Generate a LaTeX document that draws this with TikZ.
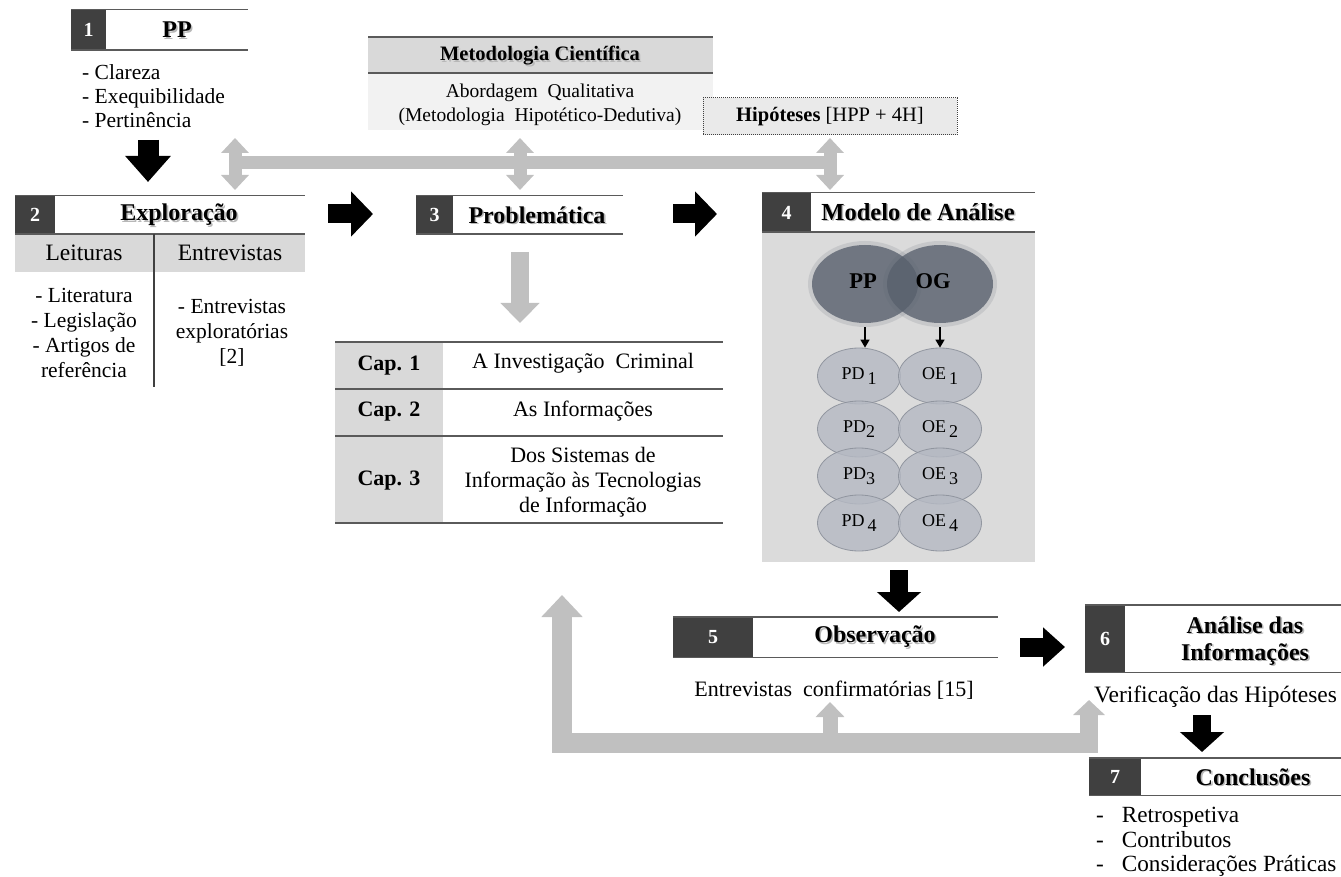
\documentclass[tikz,border=0pt]{standalone}
\usepackage{fontspec}
\setmainfont{Liberation Serif}
\usetikzlibrary{arrows.meta,shapes.geometric}
\definecolor{darkc}{HTML}{404040}
\definecolor{rulec}{HTML}{5A5A5A}
\definecolor{bandc}{HTML}{D9D9D9}
\definecolor{lightc}{HTML}{F2F2F2}
\definecolor{arrowg}{HTML}{C0C0C0}
\definecolor{panelc}{HTML}{DBDBDB}
\definecolor{bigell}{HTML}{58606D}
\definecolor{smallell}{HTML}{B5B9C3}
\definecolor{smalledge}{HTML}{8C919B}
\definecolor{hypc}{HTML}{EAEAEA}
% bold title with a soft drop shadow: options, name, position, text
\newcommand\shadowtitle[4]{%
  \node[ttl,#1,text=black!28,xshift=1.6pt,yshift=-1.6pt] at #3 {#4};
  \node[ttl,#1] (#2) at #3 {#4};}
\begin{document}
\begin{tikzpicture}[x=1pt,y=-1pt,
  txt/.style={inner sep=0pt, font=\fontsize{22}{25}\selectfont, align=center},
  ttl/.style={inner sep=0pt, font=\bfseries\fontsize{24}{27}\selectfont, align=center},
  numsq/.style={fill=darkc, text=white, inner sep=0pt, font=\bfseries\fontsize{20}{22}\selectfont},
  rule/.style={draw=rulec, line width=1.4pt},
  blk/.style={draw=black, line width=19pt, -{Triangle[length=22pt,width=44pt]}},
  garrow/.style={draw=arrowg, line width=13pt},
  dbl/.style={garrow, {Triangle[length=15pt,width=27pt]}-{Triangle[length=15pt,width=27pt]}},
  bigel/.style={ellipse, fill=bigell, fill opacity=0.78, text opacity=1, minimum width=106pt, minimum height=78pt, inner sep=0pt},
  sell/.style={ellipse, draw=smalledge, fill=smallell, fill opacity=0.8, draw opacity=0.9, text opacity=1, line width=0.8pt, minimum width=83pt, minimum height=56pt, inner sep=0pt, font=\fontsize{18}{20}\selectfont},
  sarr/.style={draw=black, line width=1.5pt, -{Triangle[length=8pt,width=9pt]}}
]
\useasboundingbox (0,0) rectangle (1341,877);

% ---------- 1  PP ----------
\node[numsq, minimum width=35pt, minimum height=40pt] (n1) at (88.5,30) {1};
\draw[rule] (n1.north west) -- ++(177,0);
\draw[rule] (n1.south west) -- ++(177,0);
\shadowtitle{}{t1}{(177,30)}{PP}
\node[txt, anchor=west, align=left, font=\fontsize{21.5}{24}\selectfont] (l1) at (82,96)
  {- Clareza\\- Exequibilidade\\- Pertinência};

% ---------- Metodologia ----------
\fill[bandc] (368,37) rectangle (713,73);
\fill[lightc] (368,73) rectangle (713,130);
\draw[rule] (368,37) -- (713,37);
\draw[rule] (368,73) -- (713,73);
\shadowtitle{font=\bfseries\fontsize{20.5}{22}\selectfont}{met}{(540,56)}{Metodologia Científica}
\node[txt, font=\fontsize{19.5}{24}\selectfont] (abo) at (540,105)
  {Abordagem\ \ Qualitativa\\(Metodologia\ \ Hipotético-Dedutiva)};
\node[draw=darkc, densely dotted, line width=1pt, fill=hypc, minimum width=254pt,
      minimum height=37pt, inner sep=0pt, font=\fontsize{20.5}{22}\selectfont] (hyp) at (830,116.5)
  {\textbf{Hipóteses} [HPP + 4H]};

% ---------- grey link bar ----------
\draw[garrow] (235,163) -- (830,163);
\coordinate (d1a) at (235,138); \coordinate (d1b) at (235,190);
\coordinate (d2a) at (520,138); \coordinate (d2b) at (520,190);
\coordinate (d3a) at (830,138); \coordinate (d3b) at (830,190);
\draw[dbl] (d1a) -- (d1b);
\draw[dbl] (d2a) -- (d2b);
\draw[dbl] (d3a) -- (d3b);

% ---------- 2  Exploracao ----------
\fill[bandc] (15,234) rectangle (305,272);
\node[numsq, minimum width=40pt, minimum height=38pt] (n2) at (35,215) {2};
\draw[rule] (n2.north west) -- ++(290,0);
\draw[rule] (n2.south west) -- ++(290,0);
\shadowtitle{}{t2}{(179,215)}{Exploração}
\draw[draw=darkc, line width=1.2pt] (154,234) -- (154,387);
\node[txt, font=\fontsize{23.5}{25}\selectfont] (c2a) at (84,253) {Leituras};
\node[txt, font=\fontsize{23.5}{25}\selectfont] (c2b) at (230,253) {Entrevistas};
\node[txt, font=\fontsize{21.5}{25}\selectfont] (c2c) at (84,333)
  {- Literatura\\- Legislação\\- Artigos de\\referência};
\node[txt, font=\fontsize{21.5}{25}\selectfont] (c2d) at (232,333)
  {- Entrevistas\\exploratórias\\{[2]}};

% ---------- 3  Problematica ----------
\node[numsq, minimum width=37pt, minimum height=38pt] (n3) at (434.5,215) {3};
\draw[rule] (n3.north west) -- ++(207,0);
\draw[rule] (n3.south west) -- ++(207,0);
\shadowtitle{}{t3}{(537,215)}{Problemática}

\coordinate (g3a) at (520,252); \coordinate (g3b) at (520,323);
\draw[garrow, line width=18pt, -{Triangle[length=20pt,width=38pt]}] (g3a) -- (g3b);

% chapter table
\fill[bandc] (335,342) rectangle (443,523);
\draw[rule] (335,342) -- (723,342);
\draw[rule] (335,389) -- (723,389);
\draw[rule] (335,436) -- (723,436);
\draw[rule] (335,523) -- (723,523);
\node[txt, font=\bfseries\fontsize{22}{25}\selectfont] (cap1) at (389,366) {Cap. 1};
\node[txt, font=\bfseries\fontsize{22}{25}\selectfont] (cap2) at (389,412) {Cap. 2};
\node[txt, font=\bfseries\fontsize{22}{25}\selectfont] (cap3) at (389,481) {Cap. 3};
\node[txt] (ch1) at (583,363) {A Investigação\ \ Criminal};
\node[txt] (ch2) at (583,411) {As Informações};
\node[txt] (ch3) at (583,482) {Dos Sistemas de\\Informação às Tecnologias\\de Informação};

% ---------- 4  Modelo de Analise ----------
\fill[panelc] (762,232) rectangle (1035,562);
\node[numsq, minimum width=49pt, minimum height=39pt] (n4) at (786.5,212.5) {4};
\draw[rule] (n4.north west) -- ++(273,0);
\draw[rule] (n4.south west) -- ++(273,0);
\shadowtitle{font=\bfseries\fontsize{24.5}{26}\selectfont}{t4}{(918,212)}{Modelo de Análise}

% soft halo of the two large ellipses
\fill[bigell, opacity=0.15] (865,284) ellipse [x radius=57, y radius=43];
\fill[bigell, opacity=0.15] (940,284) ellipse [x radius=57, y radius=43];
\node[bigel] (pp) at (865,284) {};
\node[bigel] (og) at (940,284) {};
\node[inner sep=0pt, font=\bfseries\fontsize{22.5}{24}\selectfont] (ppt) at (863,281) {PP};
\node[inner sep=0pt, font=\bfseries\fontsize{22.5}{24}\selectfont] (ogt) at (933,281) {OG};

\node[sell] (pd1) at (859,376) {PD\,\raisebox{-5pt}{1}};
\node[sell] (oe1) at (940,376) {OE\,\raisebox{-5pt}{1}};
\node[sell] (pd2) at (859,429) {PD\raisebox{-5pt}{2}};
\node[sell] (oe2) at (940,429) {OE\,\raisebox{-5pt}{2}};
\node[sell] (pd3) at (859,476) {PD\raisebox{-5pt}{3}};
\node[sell] (oe3) at (940,476) {OE\,\raisebox{-5pt}{3}};
\node[sell] (pd4) at (859,523) {PD\,\raisebox{-5pt}{4}};
\node[sell] (oe4) at (940,523) {OE\,\raisebox{-5pt}{4}};

\draw[sarr] ([yshift=-4pt]pp.south) -- (pp.south |- pd1.north);
\draw[sarr] ([yshift=-4pt]og.south) -- (og.south |- oe1.north);

% ---------- main black flow arrows ----------
\coordinate (b1a) at (148,140); \coordinate (b1b) at (148,182);
\draw[blk, line width=21pt, -{Triangle[length=26pt,width=44pt]}] (b1a) -- (b1b);
\coordinate (b2a) at (328,214); \coordinate (b2b) at (373,214);
\draw[blk] (b2a) -- (b2b);
\coordinate (b3a) at (673,214); \coordinate (b3b) at (717,214);
\draw[blk] (b3a) -- (b3b);
\coordinate (b4a) at (899,570); \coordinate (b4b) at (899,612);
\draw[blk, line width=18pt, -{Triangle[length=20pt,width=43pt]}] (b4a) -- (b4b);
\coordinate (b5a) at (1020,647); \coordinate (b5b) at (1065,647);
\draw[blk, -{Triangle[length=22pt,width=38pt]}] (b5a) -- (b5b);
\coordinate (b6a) at (1202,715); \coordinate (b6b) at (1202,752);
\draw[blk, line width=18pt, -{Triangle[length=20pt,width=43pt]}] (b6a) -- (b6b);

% ---------- 5  Observacao ----------
\node[numsq, minimum width=80pt, minimum height=40pt] (n5) at (713,637) {5};
\draw[rule] (n5.north west) -- ++(325,0);
\draw[rule] (n5.south west) -- ++(325,0);
\shadowtitle{}{t5}{(875,637)}{Observação}
\node[txt] (o5) at (834,690) {Entrevistas\ \ confirmatórias [15]};

% ---------- 6  Analise das Informacoes ----------
\node[numsq, minimum width=40pt, minimum height=67pt] (n6) at (1105,638.5) {6};
\draw[rule] (n6.north west) -- ++(256,0);
\draw[rule] (n6.south west) -- ++(256,0);
\shadowtitle{}{t6}{(1245,641)}{Análise das\\Informações}
\node[txt, anchor=west, font=\fontsize{23.5}{25}\selectfont] (v6) at (1094,697) {Verificação das Hipóteses};

% ---------- 7  Conclusoes ----------
\node[numsq, minimum width=52pt, minimum height=37pt] (n7) at (1115,776.5) {7};
\draw[rule] (n7.north west) -- ++(252,0);
\draw[rule] (n7.south west) -- ++(252,0);
\shadowtitle{}{t7}{(1253,777)}{Conclusões}
\node[txt, anchor=west, align=left, font=\fontsize{23.2}{24.5}\selectfont] (l7) at (1096,842)
  {-\hspace{18pt}Retrospetiva\\-\hspace{18pt}Contributos\\-\hspace{18pt}Considerações Práticas};

% ---------- grey feedback loop ----------
\coordinate (fb0) at (562,595);
\coordinate (fb1) at (562,743);
\coordinate (fb2) at (1098,743);
\draw[garrow, line width=20pt, miter limit=10, {Triangle[length=22pt,width=40pt]}-] (fb0) -- (fb1) -- (fb2);
\coordinate (fm0) at (830,735); \coordinate (fm1) at (830,702);
\draw[garrow, line width=15pt, -{Triangle[length=15pt,width=28pt]}] (fm0) -- (fm1);
\coordinate (fr0) at (1089,753); \coordinate (fr1) at (1089,700);
\draw[garrow, line width=18pt, -{Triangle[length=15pt,width=31pt]}] (fr0) -- (fr1);
\end{tikzpicture}
\end{document}
